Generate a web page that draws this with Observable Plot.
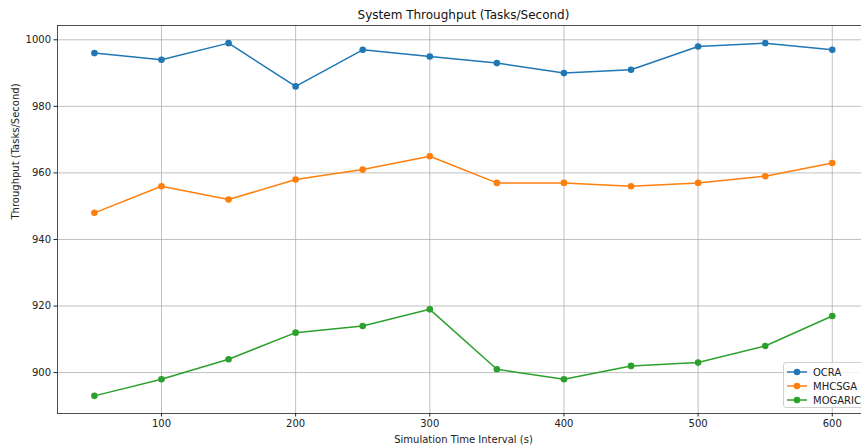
<!DOCTYPE html>
<html>
<head>
<meta charset="utf-8">
<script src="https://cdn.jsdelivr.net/npm/d3@7"></script>
<script src="https://cdn.jsdelivr.net/npm/@observablehq/plot@0.6"></script>
<style>
  html, body { margin: 0; padding: 0; background: #fff; }
  #wrap { position: relative; width: 861px; height: 445px; overflow: hidden; font-family: "DejaVu Sans", sans-serif; }
  #legend {
    position: absolute; left: 783px; top: 362px; width: 90px; height: 46px;
    background: rgba(255,255,255,0.8); border: 1px solid #d0d0d0; border-radius: 3px;
    font-size: 10px; color: #222; box-sizing: border-box;
  }
  #legend .row { position: absolute; left: 0; height: 14px; display: flex; align-items: center; white-space: nowrap; }
  #legend svg { margin-left: 3px; margin-right: 6px; }
</style>
</head>
<body>
<div id="wrap">
  <div id="chart"></div>
  <div id="legend"></div>
</div>
<script>
// Simulation time intervals (s)
const intervals = [50, 100, 150, 200, 250, 300, 350, 400, 450, 500, 550, 600];

// Throughput (tasks/second) per algorithm
const ocra    = [996, 994, 999, 986, 997, 995, 993, 990, 991, 998, 999, 997];
const mhcsga  = [948, 956, 952, 958, 961, 965, 957, 957, 956, 957, 959, 963];
const mogaric = [893, 898, 904, 912, 914, 919, 901, 898, 902, 903, 908, 917];

const seriesNames  = ["OCRA", "MHCSGA", "MOGARIC"];
const seriesColors = ["#1f77b4", "#ff7f0e", "#2ca02c"];
const xTicks = [100, 200, 300, 400, 500, 600];
const yTicks = [900, 920, 940, 960, 980, 1000];

const title  = "System Throughput (Tasks/Second)";
const xLabel = "Simulation Time Interval (s)";
const yLabel = "Throughput (Tasks/Second)";

const valuesBySeries = [ocra, mhcsga, mogaric];
const rows = seriesNames.flatMap((name, i) =>
  intervals.map((t, j) => ({series: name, t, value: valuesBySeries[i][j]}))
);

const gridStyle = {stroke: "#b0b0b0", strokeOpacity: 1, strokeWidth: 0.8};
const spine = {stroke: "#222", strokeOpacity: 1, strokeWidth: 0.8};

const chart = Plot.plot({
  width: 861,
  height: 445,
  marginLeft: 57,
  marginTop: 25,
  marginBottom: 32,
  marginRight: 0,
  x: {domain: [22.5, 621.8]},
  y: {domain: [887.7, 1004.3]},
  color: {domain: seriesNames, range: seriesColors},
  style: {fontFamily: "DejaVu Sans, sans-serif", fontSize: "10px", background: "white", color: "#222"},
  marks: [
    Plot.gridX(xTicks, gridStyle),
    Plot.gridY(yTicks, gridStyle),
    Plot.axisX(xTicks, {tickSize: 3.5, tickPadding: 3, label: null, fontSize: 10, tickFormat: d3.format("d")}),
    Plot.axisY(yTicks, {tickSize: 3.5, tickPadding: 3, label: null, fontSize: 10, tickFormat: d3.format("d")}),
    Plot.frame({anchor: "top", ...spine}),
    Plot.frame({anchor: "left", ...spine}),
    Plot.frame({anchor: "bottom", ...spine}),
    Plot.line(rows, {x: "t", y: "value", z: "series", stroke: "series", strokeWidth: 1.5}),
    Plot.dot(rows, {x: "t", y: "value", fill: "series", r: 3.3}),
    Plot.text([title], {frameAnchor: "top", lineAnchor: "middle", dx: 4, dy: -10, fontSize: 12, fill: "#111"}),
    Plot.text([xLabel], {frameAnchor: "bottom", lineAnchor: "middle", dx: 4, dy: 26, fontSize: 10, fill: "#222"}),
    Plot.text([yLabel], {frameAnchor: "left", lineAnchor: "middle", dx: -42, rotate: -90, fontSize: 10, fill: "#222"})
  ]
});
document.getElementById("chart").appendChild(chart);

// Legend: line-with-marker swatch per series
const legend = document.getElementById("legend");
seriesNames.forEach((name, i) => {
  const row = document.createElement("div");
  row.className = "row";
  row.style.top = (2 + i * 14) + "px";
  row.innerHTML =
    `<svg width="20" height="10"><line x1="0" y1="5" x2="20" y2="5" stroke="${seriesColors[i]}" stroke-width="1.5"/>` +
    `<circle cx="10" cy="5" r="3.3" fill="${seriesColors[i]}"/></svg><span>${name}</span>`;
  legend.appendChild(row);
});
</script>
</body>
</html>
